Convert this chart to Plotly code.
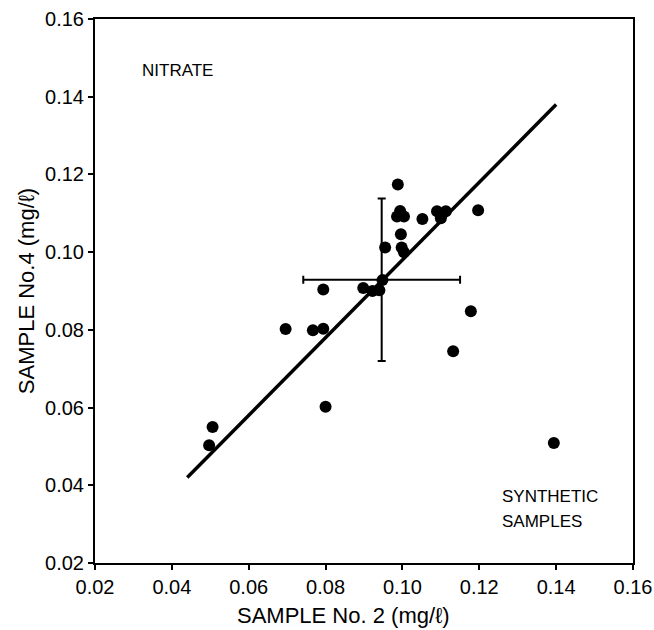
import plotly.graph_objects as go

# Nitrate results: sample No. 2 vs sample No. 4 (mg/l)
sample2 = [0.0497, 0.0506, 0.0696, 0.0767, 0.0794, 0.0794, 0.0800,
           0.0898, 0.0922, 0.0940, 0.0948, 0.0955, 0.0998, 0.1004,
           0.0988, 0.0994, 0.1004, 0.0986, 0.1052, 0.0996,
           0.1090, 0.1113, 0.1100, 0.1197, 0.1178, 0.1132, 0.1394]
sample4 = [0.0503, 0.0550, 0.0802, 0.0799, 0.0803, 0.0904, 0.0602,
           0.0908, 0.0900, 0.0902, 0.0928, 0.1012, 0.1012, 0.1000,
           0.1174, 0.1106, 0.1092, 0.1092, 0.1085, 0.1046,
           0.1105, 0.1105, 0.1087, 0.1108, 0.0848, 0.0745, 0.0509]

# Fitted line end points
fit_x = [0.044, 0.140]
fit_y = [0.042, 0.138]

# Mean and standard deviations
mean_x = [0.0946]
mean_y = [0.0929]
sd_x = [0.0204]
sd_y = [0.0209]

ticks = [0.02, 0.04, 0.06, 0.08, 0.10, 0.12, 0.14, 0.16]
tick_text = ["0.02", "0.04", "0.06", "0.08", "0.10", "0.12", "0.14", "0.16"]

font_family = "Liberation Sans, Arial, sans-serif"

fig = go.Figure()

fig.add_trace(go.Scatter(
    x=fit_x, y=fit_y, mode="lines",
    line=dict(color="black", width=3.5),
    showlegend=False, hoverinfo="skip"))

fig.add_trace(go.Scatter(
    x=mean_x, y=mean_y, mode="markers",
    marker=dict(size=1, color="black"),
    error_x=dict(type="data", array=sd_x, color="black", thickness=2, width=4),
    error_y=dict(type="data", array=sd_y, color="black", thickness=2, width=4),
    showlegend=False))

fig.add_trace(go.Scatter(
    x=sample2, y=sample4, mode="markers",
    marker=dict(size=12, color="black", line=dict(width=0)),
    showlegend=False))

axis_common = dict(
    range=[0.02, 0.16], tickvals=ticks, ticktext=tick_text,
    showgrid=False, zeroline=False, automargin=False,
    showline=True, linecolor="black", linewidth=2, mirror=True,
    ticks="outside", ticklen=5, tickwidth=1.5, tickcolor="black",
    tickfont=dict(family=font_family, size=20, color="black"),
)

title_font = dict(family=font_family, size=22, color="black")

fig.update_xaxes(**axis_common)
fig.update_yaxes(**axis_common,
                 title=dict(text="SAMPLE No.4 (mg/ℓ)", standoff=4, font=title_font))

# x-axis caption, set slightly left of the plot centre
fig.add_annotation(x=0.461, y=-0.097, xref="paper", yref="paper",
                   text="SAMPLE No. 2 (mg/ℓ)", showarrow=False,
                   xanchor="center", yanchor="middle", font=title_font)

label_font = dict(family=font_family, size=17, color="black")
fig.add_annotation(x=0.0317, y=0.1468, xref="x", yref="y", text="NITRATE",
                   showarrow=False, xanchor="left", yanchor="middle", font=label_font)
fig.add_annotation(x=0.1254, y=0.0370, xref="x", yref="y", text="SYNTHETIC",
                   showarrow=False, xanchor="left", yanchor="middle", font=label_font)
fig.add_annotation(x=0.1254, y=0.0308, xref="x", yref="y", text="SAMPLES",
                   showarrow=False, xanchor="left", yanchor="middle", font=label_font)

fig.update_layout(
    width=654, height=630,
    margin=dict(l=95, r=21, t=19, b=67),
    paper_bgcolor="white", plot_bgcolor="white",
)

fig.write_html("out.html")
